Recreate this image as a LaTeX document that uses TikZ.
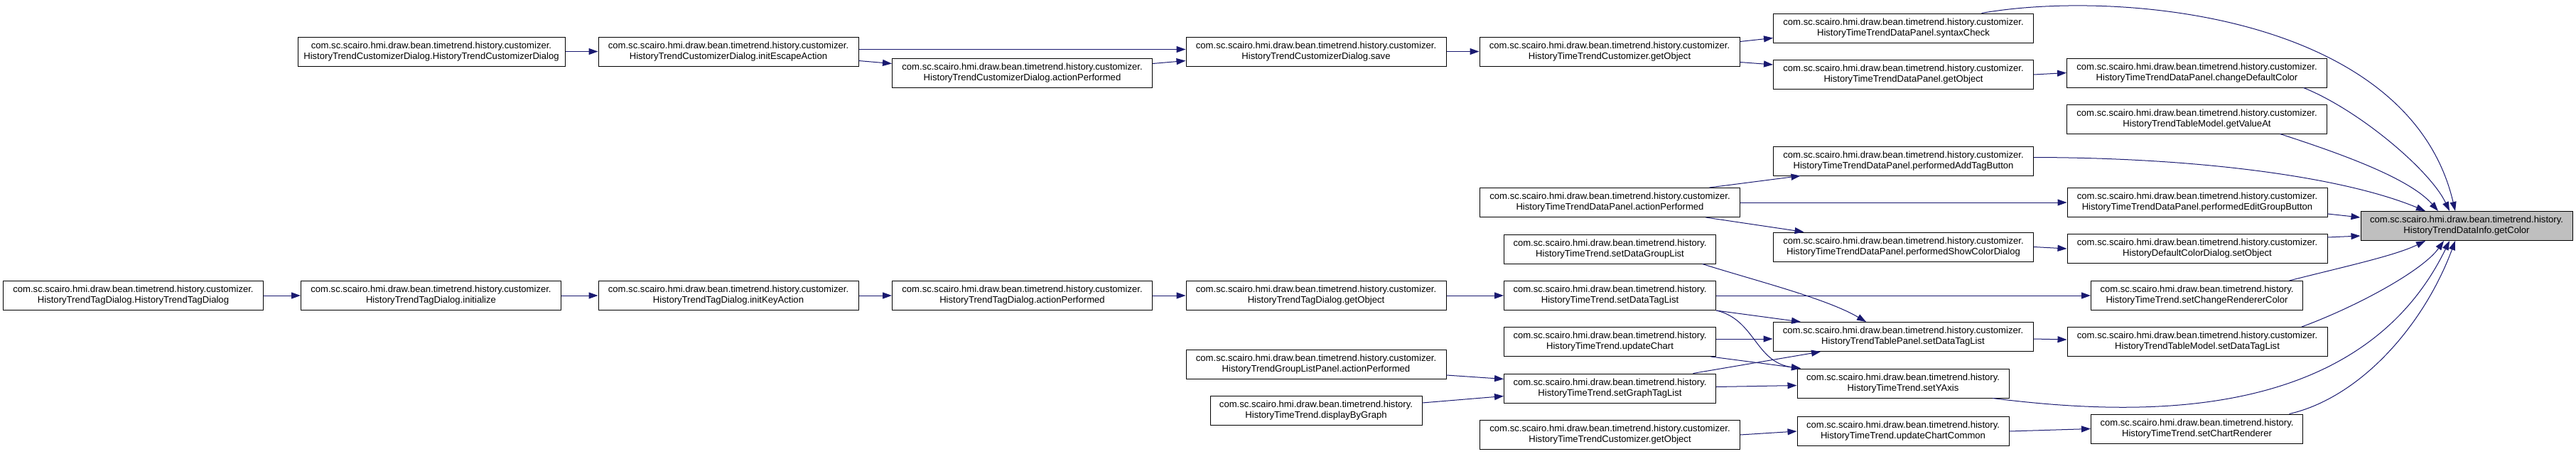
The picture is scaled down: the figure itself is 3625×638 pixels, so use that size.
\documentclass[tikz,border=0pt]{standalone}
\usepackage{fontspec}
\setmainfont{Liberation Sans}
\usepackage{tikz}
\usetikzlibrary{arrows.meta}
\definecolor{edgeblue}{HTML}{191970}
\definecolor{focusgray}{HTML}{BFBFBF}
\def\custpkg{com.sc.scairo.hmi.draw.bean.timetrend.history.customizer.}
\def\histpkg{com.sc.scairo.hmi.draw.bean.timetrend.history.}

\begin{document}
\begin{tikzpicture}[x=1pt, y=-1pt,
		fn/.style={draw=black, fill=white, line width=1pt, minimum width=366pt, minimum height=41pt, inner sep=0pt, align=center, font=\fontsize{13.1}{15}\selectfont},
		fnh/.style={fn, minimum width=298pt},
		focus/.style={fill=focusgray},
		call/.style={draw=edgeblue, line width=1pt, -{Triangle[length=13pt,width=9pt]}}]
			%%%%% START %%%%%
			\useasboundingbox (0,0) rectangle (3625,638);
			
			% customizer dialog branch
			\node[fn, minimum width=376pt] (tcdCtor) at (607,72.5) {\custpkg\\HistoryTrendCustomizerDialog.HistoryTrendCustomizerDialog};
			\node[fn] (tcdEsc) at (1025,72.5) {\custpkg\\HistoryTrendCustomizerDialog.initEscapeAction};
			\node[fn] (tcdAct) at (1438.5,102.5) {\custpkg\\HistoryTrendCustomizerDialog.actionPerformed};
			\node[fn] (tcdSave) at (1852,72.5) {\custpkg\\HistoryTrendCustomizerDialog.save};
			\node[fn] (ttcGetTop) at (2265,72.5) {\custpkg\\HistoryTimeTrendCustomizer.getObject};
			\node[fn] (dpSyntax) at (2678.5,39.5) {\custpkg\\HistoryTimeTrendDataPanel.syntaxCheck};
			\node[fn] (dpGet) at (2678.5,105) {\custpkg\\HistoryTimeTrendDataPanel.getObject};
			\node[fn] (dpDefColor) at (3091.5,102.5) {\custpkg\\HistoryTimeTrendDataPanel.changeDefaultColor};
			\node[fn] (tmGetValue) at (3091.5,167.5) {\custpkg\\HistoryTrendTableModel.getValueAt};
			
			% data panel branch
			\node[fn] (dpAddTag) at (2678.5,226.5) {\custpkg\\HistoryTimeTrendDataPanel.performedAddTagButton};
			\node[fn] (dpAct) at (2265.5,285) {\custpkg\\HistoryTimeTrendDataPanel.actionPerformed};
			\node[fn] (dpEditGroup) at (3092,285) {\custpkg\\HistoryTimeTrendDataPanel.performedEditGroupButton};
			\node[fn] (dpShowColor) at (2678.5,347.5) {\custpkg\\HistoryTimeTrendDataPanel.performedShowColorDialog};
			\node[fn] (dcdSetObj) at (3092,350) {\custpkg\\HistoryDefaultColorDialog.setObject};
			
			\node[fnh, focus] (getColor) at (3471,318) {\histpkg\\HistoryTrendDataInfo.getColor};
			
			% tag dialog branch
			\node[fn] (tdCtor) at (187.5,416) {\custpkg\\HistoryTrendTagDialog.HistoryTrendTagDialog};
			\node[fn] (tdInit) at (606.5,416) {\custpkg\\HistoryTrendTagDialog.initialize};
			\node[fn] (tdKey) at (1025,416) {\custpkg\\HistoryTrendTagDialog.initKeyAction};
			\node[fn] (tdAct) at (1438.5,416) {\custpkg\\HistoryTrendTagDialog.actionPerformed};
			\node[fn] (tdGet) at (1852,416) {\custpkg\\HistoryTrendTagDialog.getObject};
			\node[fn] (glpAct) at (1852,513) {\custpkg\\HistoryTrendGroupListPanel.actionPerformed};
			\node[fnh] (ttDisplay) at (1852,578) {\histpkg\\HistoryTimeTrend.displayByGraph};
			
			% time trend branch
			\node[fnh] (ttSetGroup) at (2265.5,350.5) {\histpkg\\HistoryTimeTrend.setDataGroupList};
			\node[fnh] (ttSetTag) at (2265.5,416) {\histpkg\\HistoryTimeTrend.setDataTagList};
			\node[fnh] (ttUpdate) at (2265.5,481) {\histpkg\\HistoryTimeTrend.updateChart};
			\node[fnh] (ttGraph) at (2265.5,546.5) {\histpkg\\HistoryTimeTrend.setGraphTagList};
			\node[fn] (ttcGetBot) at (2265.5,612) {\custpkg\\HistoryTimeTrendCustomizer.getObject};
			\node[fn] (tpSetTag) at (2678,474) {\custpkg\\HistoryTrendTablePanel.setDataTagList};
			\node[fnh] (ttYAxis) at (2678,539.5) {\histpkg\\HistoryTimeTrend.setYAxis};
			\node[fnh] (ttUpdCommon) at (2678,607) {\histpkg\\HistoryTimeTrend.updateChartCommon};
			\node[fnh] (ttChangeColor) at (3091.5,416) {\histpkg\\HistoryTimeTrend.setChangeRendererColor};
			\node[fn] (tmSetTag) at (3092,481) {\custpkg\\HistoryTrendTableModel.setDataTagList};
			\node[fnh] (ttRenderer) at (3091.5,603.5) {\histpkg\\HistoryTimeTrend.setChartRenderer};
			
			% calls, top half
			\draw[call] (tcdCtor.east) -- (tcdEsc.west);
			\draw[call] ([yshift=3]tcdEsc.east) -- ([yshift=3]tcdSave.west);
			\draw[call] ([yshift=-13]tcdEsc.east) -- ([yshift=13]tcdAct.west);
			\draw[call] ([yshift=13]tcdAct.east) -- ([yshift=-13]tcdSave.west);
			\draw[call] (tcdSave.east) -- (ttcGetTop.west);
			\draw[call] ([yshift=14]ttcGetTop.east) -- ([yshift=-14]dpSyntax.west);
			\draw[call] ([yshift=-15]ttcGetTop.east) -- ([yshift=14]dpGet.west);
			\draw[call] (dpGet.east) -- (dpDefColor.west);
			\draw[call] ([xshift=110]dpSyntax.north) .. controls (2980,-15) and (3390,20) .. ([xshift=-16]getColor.north);
			\draw[call] ([xshift=150]dpDefColor.south) .. controls (3320,155) and (3420,240) .. ([xshift=-24]getColor.north);
			\draw[call] ([xshift=117]tmGetValue.south) .. controls (3290,215) and (3390,250) .. ([xshift=-40]getColor.north);
			\draw[call] ([xshift=140]dpAct.north) -- ([xshift=-145]dpAddTag.south);
			\draw[call] (dpAct.east) -- (dpEditGroup.west);
			\draw[call] ([xshift=135]dpAct.south) -- ([xshift=-140]dpShowColor.north);
			\draw[call] ([yshift=5]dpAddTag.east) .. controls (3100,222) and (3300,250) .. ([xshift=-58]getColor.north);
			\draw[call] ([yshift=-16]dpEditGroup.east) -- ([yshift=12]getColor.west);
			\draw[call] (dpShowColor.east) -- (dcdSetObj.west);
			\draw[call] ([yshift=16]dcdSetObj.east) -- ([yshift=-14]getColor.west);
			
			% calls, bottom half
			\draw[call] (tdCtor.east) -- (tdInit.west);
			\draw[call] (tdInit.east) -- (tdKey.west);
			\draw[call] (tdKey.east) -- (tdAct.west);
			\draw[call] (tdAct.east) -- (tdGet.west);
			\draw[call] (tdGet.east) -- (ttSetTag.west);
			\draw[call] ([xshift=130]ttSetGroup.south) .. controls (2470,395) and (2570,420) .. ([xshift=-52]tpSetTag.north);
			\draw[call] (ttSetTag.east) -- (ttChangeColor.west);
			\draw[call] (ttSetTag.south east) -- ([xshift=-144]tpSetTag.north);
			\draw[call] ([xshift=150]ttSetTag.south) .. controls (2470,450) and (2470,510) .. ([xshift=-144]ttYAxis.north);
			\draw[call] ([yshift=4]ttUpdate.east) -- ([yshift=-3]tpSetTag.west);
			\draw[call] ([xshift=142]ttUpdate.south) -- ([xshift=-144]ttYAxis.north);
			\draw[call] ([yshift=-15]glpAct.east) -- ([yshift=13]ttGraph.west);
			\draw[call] ([yshift=11]ttDisplay.east) -- ([yshift=-11]ttGraph.west);
			\draw[call] ([xshift=117]ttGraph.north) -- ([xshift=-116]tpSetTag.south);
			\draw[call] ([yshift=2]ttGraph.east) -- ([yshift=-3]ttYAxis.west);
			\draw[call] ([yshift=-3]tpSetTag.east) -- ([yshift=3]tmSetTag.west);
			\draw[call] (ttcGetBot.east) -- (ttUpdCommon.west);
			\draw[call] (ttUpdCommon.east) -- (ttRenderer.west);
			\draw[call] ([xshift=130]ttChangeColor.north) .. controls (3300,375) and (3370,360) .. ([xshift=-58]getColor.south);
			\draw[call] ([xshift=147]tmSetTag.north) .. controls (3320,430) and (3410,380) .. ([xshift=-32]getColor.south);
			\draw[call] ([xshift=126]ttYAxis.south) .. controls (3000,585) and (3320,600) .. ([xshift=-24]getColor.south);
			\draw[call] ([xshift=130]ttRenderer.north) .. controls (3320,560) and (3410,460) .. ([xshift=-16]getColor.south);
			%%%%% END %%%%%
\end{tikzpicture}
\end{document}
